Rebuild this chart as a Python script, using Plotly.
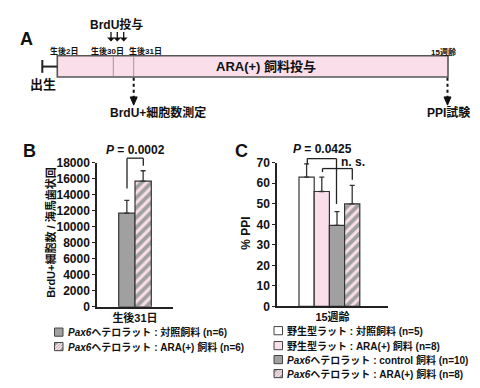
import plotly.graph_objects as go

# ---------------- data ----------------
B_categories = ["生後31日"]
B_series = ["<i>Pax6</i>ヘテロラット : 対照飼料 (n=6)",
            "<i>Pax6</i>ヘテロラット : ARA(+) 飼料 (n=6)"]
B_means = [11700, 15700]
B_errs = [1600, 1300]
B_pvalue = "<i>P</i> = 0.0002"

C_categories = ["15週齢"]
C_series = ["野生型ラット : 対照飼料 (n=5)",
            "野生型ラット : ARA(+) 飼料 (n=8)",
            "<i>Pax6</i>ヘテロラット : control 飼料 (n=10)",
            "<i>Pax6</i>ヘテロラット : ARA(+) 飼料 (n=8)"]
C_means = [63, 56, 39.5, 50]
C_errs = [6.5, 7, 6.7, 9]
C_pvalue = "<i>P</i> = 0.0425"
C_ns = "n. s."

B_yticks = [0, 2000, 4000, 6000, 8000, 10000, 12000, 14000, 16000, 18000]
C_yticks = [0, 10, 20, 30, 40, 50, 60, 70]

# ---------------- styling ----------------
W, H = 480, 388
FONT = "Liberation Sans, Arial, Noto Sans CJK JP, sans-serif"
PINK = "rgb(250,222,234)"
GRAY = "rgb(160,160,160)"
WHITE = "white"
EDGE = "#333333"


def px(x):
    return x / W


def py(y):
    return 1 - y / H


fig = go.Figure()

# bar styles: (fill, hatched)
B_styles = [(GRAY, False), (GRAY, True)]
C_styles = [(WHITE, False), (PINK, False), (GRAY, False), (GRAY, True)]


def add_bars(cats, means, errs, styles, xa, ya, offsets, width):
    for i, (m, e, (col, hatch)) in enumerate(zip(means, errs, styles)):
        marker = dict(color=col, line=dict(color=EDGE, width=1.2))
        if hatch:
            marker["pattern"] = dict(shape="/", fgcolor=PINK, bgcolor=GRAY,
                                     size=7, solidity=0.45, fillmode="replace")
        fig.add_trace(go.Bar(
            x=cats, y=[m], xaxis=xa, yaxis=ya, marker=marker,
            offset=offsets[i], width=width, showlegend=False,
            error_y=dict(type="data", array=[e], arrayminus=[0], symmetric=False,
                         color=EDGE, thickness=1.3, width=2.5),
        ))


# panel B axis: x 89..165 px, bars 110.7..143.3
bw_B = 16.3 / 76
add_bars(B_categories, B_means, B_errs, B_styles, "x", "y",
         [(110.7 - 127) / 76, (110.7 - 127) / 76 + bw_B], bw_B)
# panel C axis: x 269..380 px, bars 291..351.7
bw_C = 15.2 / 111
c0 = (291 - 324.5) / 111
add_bars(C_categories, C_means, C_errs, C_styles, "x2", "y2",
         [c0 + i * bw_C for i in range(4)], bw_C)

axis_common = dict(showline=True, linecolor="#222222", linewidth=1.5,
                   showgrid=False, zeroline=False)
tickfont = dict(family=FONT, size=12, color="#111111", weight="bold")

fig.update_layout(
    width=W, height=H, margin=dict(l=0, r=0, t=0, b=0),
    paper_bgcolor="white", plot_bgcolor="white",
    barmode="overlay", showlegend=False,
    font=dict(family=FONT, color="#111111"),
    xaxis=dict(domain=[px(89), px(165)], anchor="y", type="category",
               range=[-0.5, 0.5], ticks="", tickfont=dict(family=FONT, size=11, weight="bold"),
               **axis_common),
    yaxis=dict(domain=[py(302.7), py(153.3)], anchor="x", range=[0, 18000],
               tickvals=B_yticks, tickformat="d", ticks="outside", ticklen=3, tickwidth=1.3,
               tickcolor="#222222", tickfont=tickfont, **axis_common),
    xaxis2=dict(domain=[px(269), px(380)], anchor="y2", type="category",
                range=[-0.5, 0.5], ticks="", tickfont=dict(family=FONT, size=11, weight="bold"),
                **axis_common),
    yaxis2=dict(domain=[py(302.3), py(153.3)], anchor="x2", range=[0, 70],
                tickvals=C_yticks, tickformat="d", ticks="outside", ticklen=3, tickwidth=1.3,
                tickcolor="#222222", tickfont=tickfont, **axis_common),
)

shapes = []
ann = []


def line(x0, y0, x1, y1, color="#222222", width=1.3, dash="solid"):
    shapes.append(dict(type="line", xref="paper", yref="paper",
                       x0=px(x0), y0=py(y0), x1=px(x1), y1=py(y1),
                       line=dict(color=color, width=width, dash=dash)))


def text(x, y, s, size=12, bold=True, xanchor="center", angle=0, color="#111111"):
    ann.append(dict(xref="paper", yref="paper", x=px(x), y=py(y), text=s,
                    showarrow=False, xanchor=xanchor, yanchor="middle",
                    textangle=angle,
                    font=dict(family=FONT, size=size, color=color,
                              weight="bold" if bold else "normal")))


def tri(xc, ytop, ybot, half=3.5):
    shapes.append(dict(type="path", xref="paper", yref="paper",
                       path=f"M {px(xc-half)},{py(ytop)} L {px(xc+half)},{py(ytop)} L {px(xc)},{py(ybot)} Z",
                       fillcolor="#111111", line=dict(color="#111111", width=1)))


# ---------------- panel A (timeline) ----------------
text(18, 25, "A", size=18)
text(108, 10, "BrdU投与", size=12)
for xa_ in [103, 109.3, 115.7]:
    ann.append(dict(xref="paper", yref="paper", x=px(xa_), y=py(27.5),
                    ax=0, ay=-11, text="", showarrow=True, arrowhead=1,
                    arrowsize=1, arrowwidth=1.3, arrowcolor="#111111"))
text(56, 37.5, "生後2日", size=8)
text(99, 37.5, "生後30日", size=8)
text(137.5, 37.5, "生後31日", size=8)
text(435.5, 38, "15週齢", size=8)
shapes.append(dict(type="rect", xref="paper", yref="paper",
                   x0=px(49.3), y0=py(64.3), x1=px(440), y1=py(42.3),
                   fillcolor=PINK, line=dict(color="#555555", width=1.6)))
line(105.3, 43, 105.3, 63.5, color="#9a9a9a", width=1)
line(125.7, 43, 125.7, 63.5, color="#9a9a9a", width=1)
text(258, 53.5, "ARA(+) 飼料投与", size=13)
line(34.3, 46.7, 34.3, 60, width=2)
line(34.3, 53.5, 49.3, 53.5, width=2)
text(34.5, 72, "出生", size=13)
line(125.7, 65, 125.7, 86, dash="dot", width=2, color="#111111")
tri(125.7, 85, 93.5)
text(150, 101.5, "BrdU+細胞数測定", size=12)
line(439.5, 65, 439.5, 86, dash="dot", width=2, color="#111111")
tri(439.5, 85, 93.5)
text(440, 101.5, "PPI試験", size=12)

# ---------------- panel B ----------------
text(21, 141, "B", size=18)
text(43, 226, "BrdU+細胞数 / 海馬歯状回", size=11, angle=-90)
# significance bracket
line(119, 180, 119, 148.5, width=1.3)
line(119, 148.5, 135.3, 148.5, width=1.3)
line(135.3, 148.5, 135.3, 156.5, width=1.3)
text(127, 140, B_pvalue, size=12)

# ---------------- panel C ----------------
text(233, 141, "C", size=18)
text(238, 227, "% PPI", size=12, angle=-90)
line(299.3, 155, 299.3, 149, width=1.3)
line(299.3, 149, 328.5, 149, width=1.3)
line(328.5, 149, 328.5, 196, width=1.3)
line(314.5, 163, 314.5, 159.3, width=1.3)
line(314.5, 159.3, 344.3, 159.3, width=1.3)
line(344.3, 159.3, 344.3, 171, width=1.3)
text(314, 139, C_pvalue, size=12)
text(345, 152.5, C_ns, size=12)


# ---------------- legends ----------------
def legend_square(x, yc, fill, hatch=False, s=8.5):
    x0, x1 = x, x + s
    y0, y1 = yc - s / 2, yc + s / 2
    shapes.append(dict(type="rect", xref="paper", yref="paper",
                       x0=px(x0), x1=px(x1), y0=py(y1), y1=py(y0),
                       fillcolor=fill, line=dict(width=0)))
    if hatch:
        for k in [-3, 0, 3]:
            a = max(0.0, k)
            b = min(s, s + k)
            line(x0 + a + 0.3, y1 - (a - k) - 0.3, x0 + b - 0.3, y1 - (b - k) + 0.3,
                 color=PINK, width=1.6)
    shapes.append(dict(type="rect", xref="paper", yref="paper",
                       x0=px(x0), x1=px(x1), y0=py(y1), y1=py(y0),
                       fillcolor="rgba(0,0,0,0)", line=dict(color="#444444", width=1)))


B_rows = [329, 344]
for (col, hatch), lab, yc in zip(B_styles, B_series, B_rows):
    legend_square(46.5, yc, col, hatch)
    text(58, yc, lab, size=10, xanchor="left")

C_rows = [327.5, 343, 357.5, 372]
for (col, hatch), lab, yc in zip(C_styles, C_series, C_rows):
    legend_square(266, yc, col, hatch)
    text(277, yc, lab, size=10, xanchor="left")

fig.update_layout(shapes=shapes, annotations=ann)
fig.write_html("out.html")
